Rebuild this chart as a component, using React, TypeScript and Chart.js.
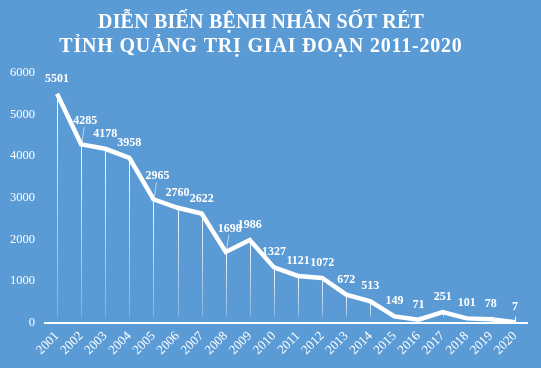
import { useEffect, useRef } from "react";
import { Chart, registerables } from "chart.js";

Chart.register(...registerables);

const years = ["2001", "2002", "2003", "2004", "2005", "2006", "2007", "2008", "2009", "2010",
  "2011", "2012", "2013", "2014", "2015", "2016", "2017", "2018", "2019", "2020"];
const patients = [5501, 4285, 4178, 3958, 2965, 2760, 2622, 1698, 1986, 1327,
  1121, 1072, 672, 513, 149, 71, 251, 101, 78, 7];
const titleLines = ["DIỄN BIẾN BỆNH NHÂN SỐT RÉT", "TỈNH QUẢNG TRỊ GIAI ĐOẠN 2011-2020"];
const yMax = 6000;
const yStep = 1000;
const leaderIdx = [1, 4, 7];

const BG = "#5b9bd5";
const FONT = "'Liberation Serif', 'Times New Roman', serif";

const titlePlugin = {
  id: "customTitle",
  afterDraw(chart: any) {
    const { ctx } = chart;
    ctx.save();
    ctx.font = `bold 20px ${FONT}`;
    ctx.fillStyle = "#ffffff";
    ctx.textAlign = "center";
    ctx.textBaseline = "middle";
    const spacing = ["0.2px", "0.8px"];
    titleLines.forEach((t, i) => {
      (ctx as any).letterSpacing = spacing[i];
      ctx.fillText(t, 261, 23 + i * 24);
    });
    ctx.restore();
  },
};

const dropAndLabels = {
  id: "dropAndLabels",
  beforeDatasetsDraw(chart: any) {
    const { ctx, chartArea } = chart;
    const meta = chart.getDatasetMeta(0);
    ctx.save();
    meta.data.forEach((pt: any) => {
      const g = ctx.createLinearGradient(0, pt.y, 0, chartArea.bottom);
      g.addColorStop(0, "rgba(255,255,255,0.95)");
      g.addColorStop(1, "rgba(255,255,255,0.2)");
      ctx.strokeStyle = g;
      ctx.lineWidth = 1;
      ctx.beginPath();
      ctx.moveTo(Math.round(pt.x) + 0.5, pt.y);
      ctx.lineTo(Math.round(pt.x) + 0.5, chartArea.bottom - 6);
      ctx.stroke();
    });
    ctx.restore();
  },
  afterDatasetsDraw(chart: any) {
    const { ctx } = chart;
    const meta = chart.getDatasetMeta(0);
    const data = chart.data.datasets[0].data;
    ctx.save();
    ctx.font = `bold 12px ${FONT}`;
    ctx.fillStyle = "#ffffff";
    ctx.textAlign = "center";
    ctx.textBaseline = "middle";
    meta.data.forEach((pt: any, i: number) => {
      let lx = pt.x;
      let ly = pt.y - 15;
      if (leaderIdx.includes(i)) {
        lx = pt.x + 4;
        ly = pt.y - 23;
        ctx.strokeStyle = "rgba(255,255,255,0.6)";
        ctx.lineWidth = 1;
        ctx.beginPath();
        ctx.moveTo(pt.x + 1, pt.y - 3);
        ctx.lineTo(pt.x + 3, ly + 6);
        ctx.stroke();
      }
      ctx.fillText(String(data[i]), lx, ly);
    });
    ctx.restore();
  },
};

export default function App() {
  const ref = useRef<HTMLCanvasElement>(null);
  useEffect(() => {
    document.body.style.margin = "0";
    const chart = new Chart(ref.current!, {
      type: "line",
      data: {
        labels: years,
        datasets: [
          {
            data: patients,
            borderColor: "#ffffff",
            borderWidth: 4.5,
            pointRadius: 0,
            tension: 0,
            fill: false,
          },
        ],
      },
      options: {
        animation: false,
        responsive: false,
        maintainAspectRatio: false,
        layout: { padding: { left: 0, right: 14, top: 73, bottom: 4 } },
        plugins: {
          legend: { display: false },
          tooltip: { enabled: false },
          title: { display: false },
        },
        scales: {
          x: {
            offset: true,
            grid: { display: false, drawTicks: false },
            border: { display: true, color: "#ffffff", width: 2 },
            ticks: {
              color: "#ffffff",
              font: { family: FONT, size: 13 },
              maxRotation: 45,
              minRotation: 45,
              padding: 6,
              autoSkip: false,
            },
          },
          y: {
            min: 0,
            max: yMax,
            grid: { display: false, drawTicks: false },
            border: { display: false },
            ticks: {
              stepSize: yStep,
              color: "#ffffff",
              font: { family: FONT, size: 12.5 },
              padding: 10,
              callback: (v: any) => String(v),
            },
          },
        },
      },
      plugins: [dropAndLabels, titlePlugin],
    });
    return () => chart.destroy();
  }, []);
  return (
    <div style={{ width: 541, height: 368, background: BG }}>
      <canvas ref={ref} width={541} height={368} />
    </div>
  );
}
